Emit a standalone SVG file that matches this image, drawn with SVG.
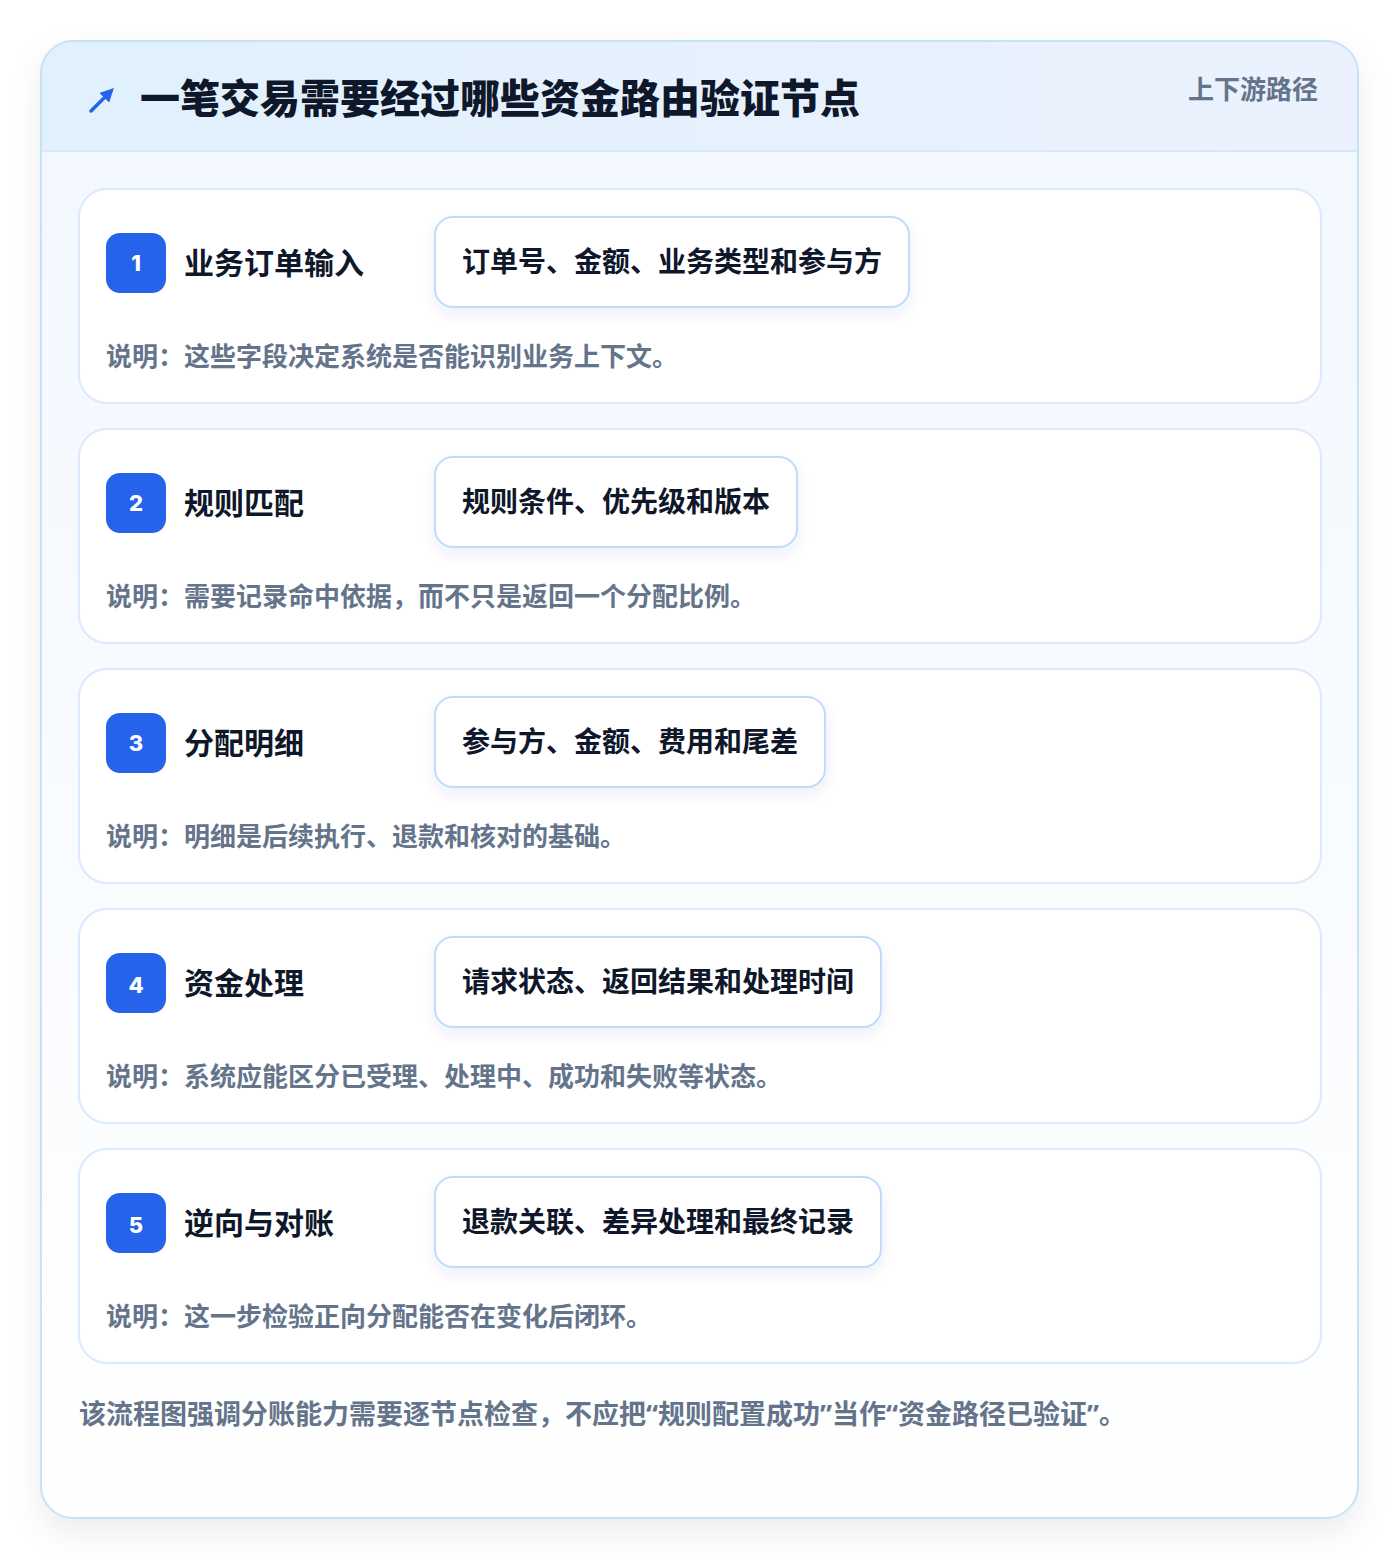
<svg xmlns="http://www.w3.org/2000/svg" width="1400" height="1560" viewBox="0 0 1400 1560">
<defs>
<linearGradient id="hdr" x1="0" y1="0" x2="1" y2="0"><stop offset="0" stop-color="#e0f0fd"/><stop offset="1" stop-color="#ebf2fd"/></linearGradient>
<linearGradient id="body" x1="0" y1="0" x2="0" y2="1"><stop offset="0" stop-color="#f2f8ff"/><stop offset="0.5" stop-color="#f8fbff"/><stop offset="1" stop-color="#ffffff"/></linearGradient>
<filter id="sh" x="-10%" y="-10%" width="120%" height="120%"><feDropShadow dx="0" dy="14" stdDeviation="16" flood-color="#0f172a" flood-opacity="0.08"/></filter>
<filter id="psh" x="-10%" y="-30%" width="120%" height="160%"><feDropShadow dx="0" dy="6" stdDeviation="7" flood-color="#1e3a8a" flood-opacity="0.08"/></filter>
<clipPath id="cardclip"><rect x="41" y="41" width="1317" height="1477" rx="32"/></clipPath>
<marker id="ah" viewBox="0 0 10 10" refX="6" refY="5" markerWidth="4" markerHeight="4" orient="auto"><path d="M0,0 L10,5 L0,10 z" fill="#2563eb"/></marker>
</defs>
<style>
text{font-family:"Noto Sans CJK SC","Noto Sans",sans-serif;font-weight:700}
.q{font-family:"Noto Sans",sans-serif}
.step{fill:#ffffff;stroke:#dbeafe;stroke-width:2}
.badge{fill:#2563eb}
.num{fill:#ffffff;font-size:22px;font-family:"Inter","Noto Sans",sans-serif;font-weight:800}
.st{fill:#0f172a;font-size:30px}
.pill{fill:#ffffff;stroke:#bfdbfe;stroke-width:2}
.pt{fill:#0f172a;font-size:28px}
.ds{fill:#64748b;font-size:26px}
</style>
<rect width="1400" height="1560" fill="#ffffff"/>
<g id="card">
<rect x="41" y="41" width="1317" height="1477" rx="32" fill="url(#body)" filter="url(#sh)"/>
<g clip-path="url(#cardclip)">
<rect x="41" y="41" width="1317" height="110" fill="url(#hdr)"/>
<line x1="41" y1="151" x2="1358" y2="151" stroke="#d6e8fb" stroke-width="2"/>
</g>
<rect x="41" y="41" width="1317" height="1477" rx="32" fill="none" stroke="#c6e2f7" stroke-width="2"/>
</g>
<g id="header">
<line x1="91" y1="111" x2="110" y2="92" stroke="#2563eb" stroke-width="3.5" stroke-linecap="round" marker-end="url(#ah)"/>
<text x="140" y="113" font-size="40" fill="#0f172a" style="font-weight:900">一笔交易需要经过哪些资金路由验证节点</text>
<text x="1318" y="99" font-size="26" fill="#64748b" text-anchor="end">上下游路径</text>
</g>
<g id="step1">
<rect class="step" x="79" y="189" width="1242" height="214" rx="28"/>
<rect class="badge" x="106" y="233" width="60" height="60" rx="14"/>
<text class="num" x="136" y="271" text-anchor="middle">1</text>
<text class="st" x="184" y="274">业务订单输入</text>
<rect class="pill" x="435" y="217" width="474" height="90" rx="18" filter="url(#psh)"/>
<text class="pt" x="462" y="272">订单号、金额、业务类型和参与方</text>
<text class="ds" x="106" y="366">说明：这些字段决定系统是否能识别业务上下文。</text>
</g>
<g id="step2">
<rect class="step" x="79" y="429" width="1242" height="214" rx="28"/>
<rect class="badge" x="106" y="473" width="60" height="60" rx="14"/>
<text class="num" x="136" y="511" text-anchor="middle">2</text>
<text class="st" x="184" y="514">规则匹配</text>
<rect class="pill" x="435" y="457" width="362" height="90" rx="18" filter="url(#psh)"/>
<text class="pt" x="462" y="512">规则条件、优先级和版本</text>
<text class="ds" x="106" y="606">说明：需要记录命中依据，而不只是返回一个分配比例。</text>
</g>
<g id="step3">
<rect class="step" x="79" y="669" width="1242" height="214" rx="28"/>
<rect class="badge" x="106" y="713" width="60" height="60" rx="14"/>
<text class="num" x="136" y="751" text-anchor="middle">3</text>
<text class="st" x="184" y="754">分配明细</text>
<rect class="pill" x="435" y="697" width="390" height="90" rx="18" filter="url(#psh)"/>
<text class="pt" x="462" y="752">参与方、金额、费用和尾差</text>
<text class="ds" x="106" y="846">说明：明细是后续执行、退款和核对的基础。</text>
</g>
<g id="step4">
<rect class="step" x="79" y="909" width="1242" height="214" rx="28"/>
<rect class="badge" x="106" y="953" width="60" height="60" rx="14"/>
<text class="num" x="136" y="993" text-anchor="middle">4</text>
<text class="st" x="184" y="994">资金处理</text>
<rect class="pill" x="435" y="937" width="446" height="90" rx="18" filter="url(#psh)"/>
<text class="pt" x="462" y="992">请求状态、返回结果和处理时间</text>
<text class="ds" x="106" y="1086">说明：系统应能区分已受理、处理中、成功和失败等状态。</text>
</g>
<g id="step5">
<rect class="step" x="79" y="1149" width="1242" height="214" rx="28"/>
<rect class="badge" x="106" y="1193" width="60" height="60" rx="14"/>
<text class="num" x="136" y="1233" text-anchor="middle">5</text>
<text class="st" x="184" y="1234">逆向与对账</text>
<rect class="pill" x="435" y="1177" width="446" height="90" rx="18" filter="url(#psh)"/>
<text class="pt" x="462" y="1232">退款关联、差异处理和最终记录</text>
<text class="ds" x="106" y="1326">说明：这一步检验正向分配能否在变化后闭环。</text>
</g>
<g id="connectors"></g>
<g id="footer">
<text x="79" y="1424" font-size="27" fill="#64748b">该流程图强调分账能力需要逐节点检查，不应把<tspan class="q">“</tspan>规则配置成功<tspan class="q">”</tspan>当作<tspan class="q">“</tspan>资金路径已验证<tspan class="q">”</tspan>。</text>
</g>
</svg>
